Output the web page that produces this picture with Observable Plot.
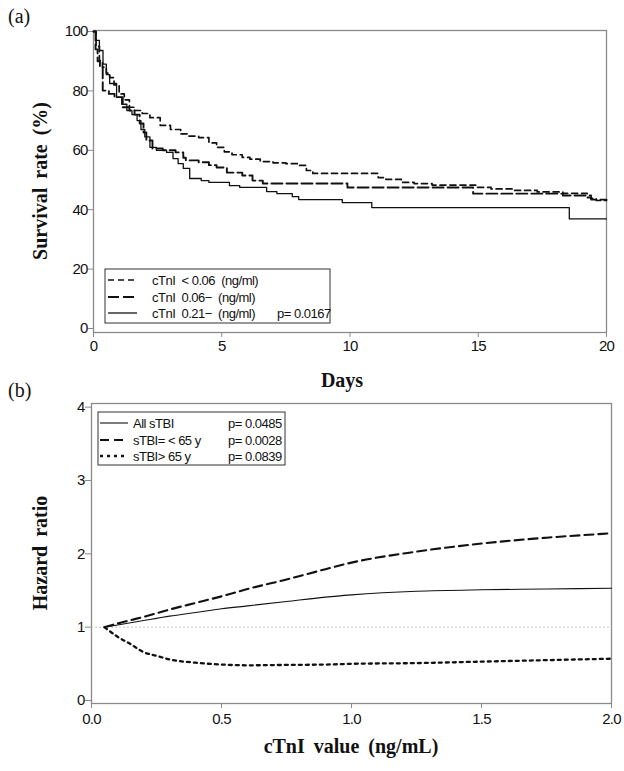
<!DOCTYPE html>
<html>
<head>
<meta charset="utf-8">
<script src="https://cdn.jsdelivr.net/npm/d3@7"></script>
<script src="https://cdn.jsdelivr.net/npm/@observablehq/plot@0.6"></script>
<style>
  html, body { margin: 0; padding: 0; background: #fff; }
  #wrap { position: relative; width: 624px; height: 771px; }
  #chartA, #chartB { display: block; line-height: 0; }
  .panel { position: absolute; left: 8px; font-family: "Liberation Serif", serif; font-size: 20px; color: #111; line-height: 1; }
  svg text { white-space: pre; }
</style>
</head>
<body>
<div id="wrap">
  <div id="chartA"></div>
  <div id="chartB"></div>
  <div class="panel" style="top:6px;">(a)</div>
  <div class="panel" style="top:380px;">(b)</div>
</div>
<script>
// ---------- Panel (a): Kaplan–Meier survival by cTnI group ----------
const kmGroups = ["cTnI < 0.06 (ng/ml)", "cTnI 0.06− (ng/ml)", "cTnI 0.21− (ng/ml)"];

const daysLow = [0, 0.1, 0.23, 0.35, 0.5, 0.63, 0.8, 1.0, 1.2, 1.4, 1.6, 1.9, 2.2, 2.6, 3.0, 3.4, 3.7, 4.1, 4.5, 4.8, 5.1, 5.4, 5.8, 6.1, 6.5, 7.0, 7.5, 8.0, 8.3, 8.55, 11.1, 11.4, 12.0, 12.5, 13.2, 14.9, 15.5, 16.4, 17.3, 18.3, 19.25, 19.4, 19.6, 20];
const survLow = [100, 95, 90.2, 88, 86, 84.5, 82, 79, 77, 74.5, 73.4, 72.4, 71, 68.4, 67, 65.5, 64.8, 64.3, 62.5, 61, 59.5, 58.5, 57.6, 57, 56.2, 55.8, 55.5, 54.9, 53.2, 52.2, 50.8, 50.2, 49.2, 48.8, 48.3, 47.5, 47, 46.5, 46, 45.5, 44.8, 43.8, 43.1, 43.1];

const daysMid = [0, 0.08, 0.16, 0.25, 0.36, 0.6, 0.82, 1.14, 1.4, 1.6, 1.8, 1.95, 2.06, 2.3, 2.7, 3.2, 3.5, 3.6, 4.1, 4.5, 4.8, 5.2, 5.8, 6.2, 6.6, 9.9, 14.8, 18.3, 19.25, 19.4, 20];
const survMid = [100, 94, 90, 88, 80.1, 79, 77.9, 74.5, 73.4, 72, 69, 66, 63.3, 60.6, 60, 59.3, 57.5, 56.6, 56, 55, 54.2, 52.5, 51.5, 49.8, 48.8, 47.5, 45.4, 44.8, 44.1, 43.4, 43.4];

const daysHigh = [0, 0.1, 0.23, 0.37, 0.5, 0.63, 0.9, 1.1, 1.3, 1.5, 1.7, 1.85, 2.0, 2.2, 2.45, 2.85, 3.1, 3.3, 3.5, 3.75, 4.2, 4.5, 5.3, 5.7, 6.75, 7.15, 7.75, 8.0, 9.7, 10.85, 18.55, 20];
const survHigh = [100, 97, 93.6, 89, 85.5, 82.5, 77.8, 75.5, 73.4, 72, 70, 67, 64.5, 61, 60, 59.3, 57.2, 55.5, 53.9, 50.5, 49.8, 49.2, 48.1, 47.5, 46.1, 45.4, 44.4, 43.4, 42.4, 40.7, 36.9, 36.9];

const kmTicksX = [0, 5, 10, 15, 20];
const kmTicksY = [0, 20, 40, 60, 80, 100];
const kmPValue = "p= 0.0167";

// ---------- Panel (b): hazard ratio vs cTnI ----------
const hrGroups = ["All sTBI", "sTBI= < 65 y", "sTBI> 65 y"];
const hrPValues = ["p= 0.0485", "p= 0.0028", "p= 0.0839"];
const ctniX   = [0.05, 0.1, 0.15, 0.2, 0.25, 0.3, 0.4, 0.5, 0.6, 0.75, 0.9, 1.0, 1.25, 1.5, 1.75, 2.0];
const hrAll   = [1.0, 1.03, 1.06, 1.09, 1.12, 1.15, 1.20, 1.25, 1.29, 1.35, 1.41, 1.44, 1.49, 1.51, 1.52, 1.53];
const hrYoung = [1.0, 1.05, 1.095, 1.14, 1.19, 1.24, 1.33, 1.42, 1.52, 1.65, 1.79, 1.88, 2.03, 2.14, 2.22, 2.28];
const hrOld   = [1.0, 0.87, 0.77, 0.66, 0.61, 0.56, 0.515, 0.49, 0.48, 0.485, 0.49, 0.50, 0.51, 0.53, 0.55, 0.57];
const hrTicksX = [0, 0.5, 1.0, 1.5, 2.0];
const hrTicksY = [0, 1, 2, 3, 4];

// ---------- build tables ----------
const kmData = [];
[[daysLow, survLow], [daysMid, survMid], [daysHigh, survHigh]].forEach(([d, s], gi) => {
  d.forEach((v, i) => kmData.push({group: kmGroups[gi], day: v, surv: s[i]}));
});
const hrData = [];
[hrAll, hrYoung, hrOld].forEach((arr, gi) => {
  ctniX.forEach((v, i) => hrData.push({group: hrGroups[gi], x: v, hr: arr[i]}));
});

const INK = "#111";
const AXIS = "#8a8a8a";
const tickFont = {fontFamily: "'Liberation Sans', Arial, sans-serif", fontSize: "15px", letterSpacing: "-0.8px"};

const kmStyles = [
  {dash: "6,4", width: 1.7},
  {dash: "11,4", width: 1.9},
  {dash: null, width: 1.3}
];
const hrStyles = [
  {dash: null, width: 1.1},
  {dash: "9,5", width: 2.1},
  {dash: "3,4", width: 2.3}
];

// ---------- top chart ----------
const chartTop = Plot.plot({
  width: 624, height: 390,
  marginLeft: 93, marginRight: 18, marginTop: 30, marginBottom: 58,
  style: {background: "white", color: INK, ...tickFont, overflow: "visible"},
  x: {domain: [0, 20]},
  y: {domain: [-1.35, 100.34]},
  marks: [
    Plot.frame({stroke: AXIS, strokeWidth: 1.3}),
    Plot.axisX({ticks: kmTicksX, tickSize: 5, tickPadding: 3, stroke: AXIS, fill: INK, label: null}),
    Plot.axisY({ticks: kmTicksY, tickSize: 5, tickPadding: 1, stroke: AXIS, fill: INK, label: null}),
    ...kmGroups.map((g, i) => Plot.line(kmData.filter(d => d.group === g), {
      x: "day", y: "surv", curve: "step-after",
      stroke: INK, strokeWidth: kmStyles[i].width, strokeDasharray: kmStyles[i].dash
    }))
  ]
});
document.getElementById("chartA").appendChild(chartTop);

// ---------- bottom chart ----------
const chartBottom = Plot.plot({
  width: 624, height: 381,
  marginLeft: 91, marginRight: 13, marginTop: 13, marginBottom: 68,
  style: {background: "white", color: INK, ...tickFont, overflow: "visible"},
  x: {domain: [0, 2]},
  y: {domain: [-0.041, 4.05]},
  marks: [
    Plot.frame({stroke: AXIS, strokeWidth: 1.3}),
    Plot.ruleY([1], {stroke: "#b5b5b5", strokeWidth: 0.8, strokeDasharray: "2,2"}),
    Plot.axisX({ticks: hrTicksX, tickSize: 5, tickPadding: 5, tickFormat: d3.format(".1f"), stroke: AXIS, fill: INK, label: null}),
    Plot.axisY({ticks: hrTicksY, tickSize: 6, tickPadding: 1, tickFormat: d3.format("d"), stroke: AXIS, fill: INK, label: null}),
    ...hrGroups.map((g, i) => Plot.line(hrData.filter(d => d.group === g), {
      x: "x", y: "hr", curve: "monotone-x",
      stroke: INK, strokeWidth: hrStyles[i].width, strokeDasharray: hrStyles[i].dash
    }))
  ]
});
document.getElementById("chartB").appendChild(chartBottom);

// ---------- titles & legends ----------
const serifBold = "'Liberation Serif', 'Times New Roman', serif";
function titles(svg, ylab, ycx, ycy, xlab, xcx, xcy) {
  const s = d3.select(svg);
  s.append("text").attr("transform", `translate(${ycx},${ycy}) rotate(-90)`)
    .attr("text-anchor", "middle").attr("dominant-baseline", "central")
    .attr("font-family", serifBold).attr("font-weight", "bold").attr("font-size", 20)
    .attr("letter-spacing", "0px").attr("word-spacing", "4px").attr("fill", INK).text(ylab);
  s.append("text").attr("x", xcx).attr("y", xcy)
    .attr("text-anchor", "middle").attr("dominant-baseline", "central")
    .attr("font-family", serifBold).attr("font-weight", "bold").attr("font-size", 20)
    .attr("letter-spacing", "0px").attr("word-spacing", "4px").attr("fill", INK).text(xlab);
}
titles(chartTop, "Survival rate (%)", 40, 181, "Days", 342, 380);
titles(chartBottom, "Hazard ratio", 40, 163, "cTnI value (ng/mL)", 351, 356);

function legend(svg, box, rows, lineX, textX, pX, labels, pvals, styles) {
  const s = d3.select(svg);
  s.append("rect").attr("x", box[0]).attr("y", box[1]).attr("width", box[2]).attr("height", box[3])
    .attr("fill", "white").attr("stroke", "#333").attr("stroke-width", 1);
  labels.forEach((lab, i) => {
    s.append("line").attr("x1", lineX[0]).attr("x2", lineX[1]).attr("y1", rows[i]).attr("y2", rows[i])
      .attr("stroke", INK).attr("stroke-width", styles[i].width)
      .attr("stroke-dasharray", styles[i].dash);
    s.append("text").attr("x", textX).attr("y", rows[i]).attr("dominant-baseline", "central")
      .attr("text-anchor", "start")
      .attr("font-family", "'Liberation Sans', Arial, sans-serif").attr("font-size", 13)
      .attr("letter-spacing", "-0.5px").attr("fill", INK).text(lab);
    if (pvals[i]) {
      s.append("text").attr("x", pX).attr("y", rows[i]).attr("dominant-baseline", "central")
        .attr("text-anchor", "start")
        .attr("font-family", "'Liberation Sans', Arial, sans-serif").attr("font-size", 13)
        .attr("letter-spacing", "-0.5px").attr("fill", INK).text(pvals[i]);
    }
  });
}
legend(chartTop, [105, 269, 225, 54], [280, 297, 313], [108, 137], 152, 277,
  ["cTnI  < 0.06  (ng/ml)", "cTnI  0.06−  (ng/ml)", "cTnI  0.21−  (ng/ml)"],
  [null, null, kmPValue], kmStyles);
legend(chartBottom, [98, 22, 187, 53], [33, 50, 66], [100, 128], 133, 228,
  hrGroups, hrPValues, hrStyles);
</script>
</body>
</html>
